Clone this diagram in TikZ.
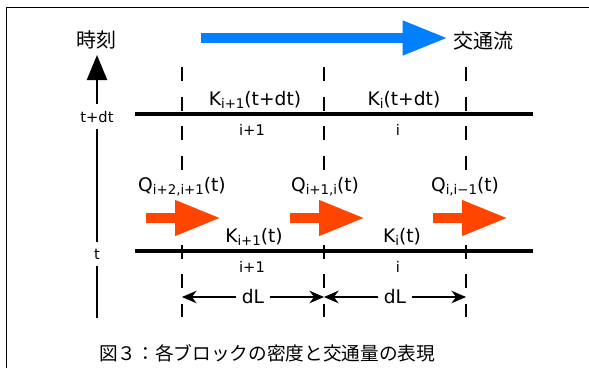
\documentclass[tikz,border=0pt]{standalone}
\usepackage{fontspec}
\setmainfont{DejaVu Sans}
\newfontfamily\jafont{Noto Sans CJK JP}
\usetikzlibrary{arrows.meta}
\definecolor{flowblue}{RGB}{0,128,255}
\definecolor{qorange}{RGB}{255,69,0}
\newcommand{\idx}[1]{\raisebox{-0.18em}{\fontsize{10}{10}\selectfont #1}}

\begin{document}
\begin{tikzpicture}[
  x=0.75pt, y=-0.75pt,
  % Text styles
  lbl/.style={anchor=base, inner sep=0pt, font=\fontsize{14}{16}\selectfont},
  small/.style={anchor=base, inner sep=0pt, font=\fontsize{11}{12}\selectfont},
  jp/.style={anchor=base, inner sep=0pt, font=\jafont\fontsize{15}{17}\selectfont},
  % Line styles
  frame/.style={draw, line width=0.75pt},
  road/.style={draw, line width=2.5pt},
  bound/.style={draw, line width=1.4pt, dash pattern=on 10.5pt off 11.7pt},
  axis/.style={draw, line width=1.8pt},
  dim/.style={draw, line width=0.8pt, -{Stealth[length=11pt, width=9.5pt]}},
  % Fat arrows
  flow/.style={draw=flowblue, line width=7.5pt, -{Triangle[length=34pt, width=24pt]}},
  qflow/.style={draw=qorange, line width=7.5pt, -{Triangle[length=34.5pt, width=24.75pt]}}
]
  \useasboundingbox (0,0) rectangle (589,368);

  % Frame (top and left only)
  \draw[frame] (6,368) -- (6,7) -- (589,7);

  % ==========================================
  % TIME AXIS
  % ==========================================
  \coordinate (axis_bot) at (97,318);
  \coordinate (axis_tip) at (97,55);
  \node[jp] (jikoku) at (96,47) {時刻};
  \node[small, inner ysep=5pt] (t_dt) at (97,122) {t+dt};
  \node[small, inner ysep=5pt] (t_now) at (97,259) {t};

  \draw[axis] (axis_bot) -- (t_now);
  \draw[axis] (t_now) -- (t_dt);
  \draw[axis, -{Triangle[length=18.75pt, width=15pt]}] (t_dt) -- (axis_tip);

  % ==========================================
  % TRAFFIC FLOW
  % ==========================================
  \coordinate (flow_s) at (201,38);
  \coordinate (flow_e) at (448,38);
  \draw[flow] (flow_s) -- (flow_e);
  \node[jp] (koutsu) at (483,48) {交通流};

  % ==========================================
  % ROADS AND BLOCK BOUNDARIES
  % ==========================================
  \coordinate (road1_w) at (135,114);
  \coordinate (road1_e) at (533,114);
  \coordinate (road0_w) at (135,251);
  \coordinate (road0_e) at (533,251);
  \draw[road] (road1_w) -- (road1_e);
  \draw[road] (road0_w) -- (road0_e);

  \coordinate (b1_top) at (182,67);
  \coordinate (b1_bot) at (182,317);
  \coordinate (b2_top) at (324,67);
  \coordinate (b2_bot) at (324,317);
  \coordinate (b3_top) at (466,67);
  \coordinate (b3_bot) at (466,317);
  \draw[bound] (b1_top) -- (b1_bot);
  \draw[bound] (b2_top) -- (b2_bot);
  \draw[bound] (b3_top) -- (b3_bot);

  % Densities at t+dt
  \node[lbl] (k1_top) at (255,105) {K\idx{i+1}(t+dt)};
  \node[lbl] (k0_top) at (404,105) {K\idx{i}(t+dt)};
  \node[small] (c1_top) at (252,135) {i+1};
  \node[small] (c0_top) at (398,135) {i};

  % Densities at t
  \node[lbl] (k1_bot) at (254,242) {K\idx{i+1}(t)};
  \node[lbl] (k0_bot) at (402,242) {K\idx{i}(t)};
  \node[small] (c1_bot) at (252,272) {i+1};
  \node[small] (c0_bot) at (398,272) {i};

  % ==========================================
  % FLOWS BETWEEN BLOCKS
  % ==========================================
  \node[lbl, fill=white, inner sep=3pt] (q21) at (182,191) {Q\idx{i+2,i+1}(t)};
  \node[lbl, fill=white, inner sep=3pt] (q10) at (325,191) {Q\idx{i+1,i}(t)};
  \node[lbl, fill=white, inner sep=3pt] (q0m) at (465,191) {Q\idx{i,i−1}(t)};

  \coordinate (q21_s) at (146,218);
  \coordinate (q21_e) at (221,218);
  \coordinate (q10_s) at (290,218);
  \coordinate (q10_e) at (365,218);
  \coordinate (q0m_s) at (433,218);
  \coordinate (q0m_e) at (508,218);
  \draw[qflow] (q21_s) -- (q21_e);
  \draw[qflow] (q10_s) -- (q10_e);
  \draw[qflow] (q0m_s) -- (q0m_e);

  % ==========================================
  % BLOCK LENGTH
  % ==========================================
  \coordinate (p1) at (182,297);
  \coordinate (p2) at (324,297);
  \coordinate (p3) at (466,297);
  \node[font=\fontsize{14}{16}\selectfont, inner xsep=4pt, inner ysep=0pt] (dl_a) at (253,297) {dL};
  \node[font=\fontsize{14}{16}\selectfont, inner xsep=4pt, inner ysep=0pt] (dl_b) at (395,297) {dL};
  \draw[dim] (dl_a) -- (p1);
  \draw[dim] (dl_a) -- (p2);
  \draw[dim] (dl_b) -- (p2);
  \draw[dim] (dl_b) -- (p3);

  % Caption
  \node[jp, font=\jafont\fontsize{14}{16}\selectfont] (caption) at (267,360) {図３：各ブロックの密度と交通量の表現};

\end{tikzpicture}
\end{document}
